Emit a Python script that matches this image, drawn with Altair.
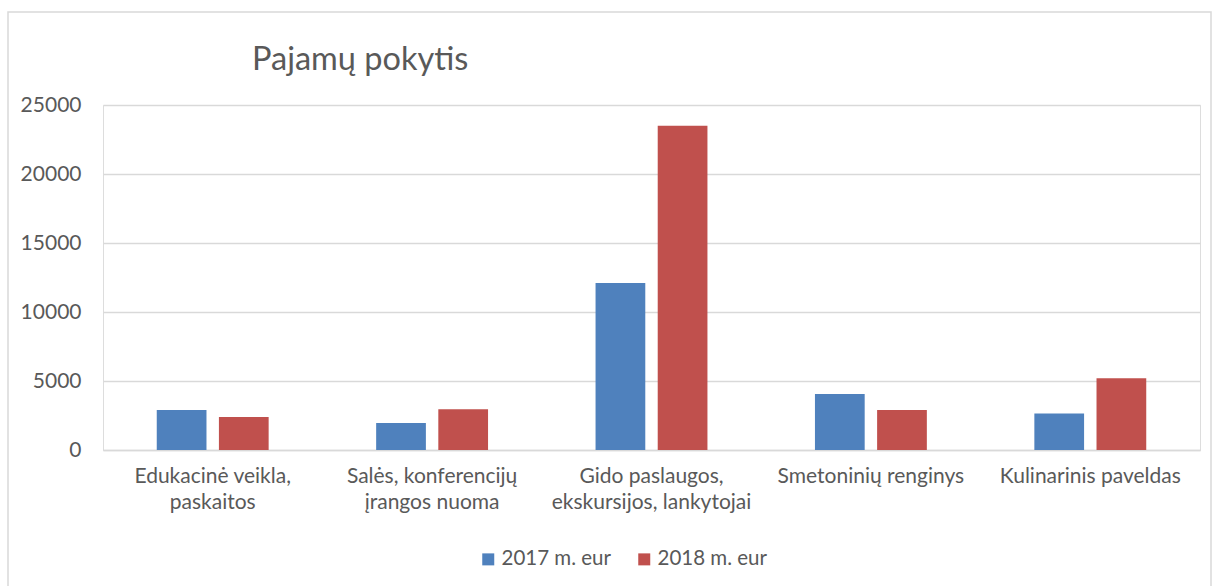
import altair as alt
import pandas as pd

title_text = "Pajamų pokytis"
categories = [
    "Edukacinė veikla,|paskaitos",
    "Salės, konferencijų|įrangos nuoma",
    "Gido paslaugos,|ekskursijos, lankytojai",
    "Smetoninių renginys",
    "Kulinarinis paveldas",
]
series = ["2017 m. eur", "2018 m. eur"]
values_2017 = [2900, 1950, 12100, 4050, 2650]
values_2018 = [2400, 2950, 23500, 2900, 5200]
colors = ["#4F81BD", "#C0504D"]

rows = []
for c, a, b in zip(categories, values_2017, values_2018):
    rows.append({"cat": c, "series": series[0], "value": a})
    rows.append({"cat": c, "series": series[1], "value": b})
df = pd.DataFrame(rows)

FONT = "Lato"
GRAY = "#595959"
FS = 21

bars = alt.Chart(df).mark_bar().encode(
    x=alt.X("cat:N", sort=categories,
            scale=alt.Scale(paddingInner=0.49, paddingOuter=0.245),
            axis=alt.Axis(title=None, labelExpr="split(datum.label, '|')",
                          labelAngle=0, labelFontSize=FS, labelFont=FONT,
                          labelColor=GRAY, labelPadding=15, labelLineHeight=26,
                          labelLimit=0,
                          ticks=False, domainColor="#d9d9d9", domainWidth=1.5,
                          labelBaseline="top")),
    xOffset=alt.XOffset("series:N", sort=series,
                        scale=alt.Scale(paddingInner=0.2, paddingOuter=0)),
    y=alt.Y("value:Q", scale=alt.Scale(domain=[0, 25000]),
            axis=alt.Axis(title=None, values=[0, 5000, 10000, 15000, 20000, 25000],
                          format="d", labelFontSize=FS, labelFont=FONT,
                          labelColor=GRAY, labelPadding=22, ticks=False,
                          domain=False, gridColor="#d9d9d9", gridWidth=1.5)),
    color=alt.Color("series:N", sort=series,
                    scale=alt.Scale(domain=series, range=colors),
                    legend=alt.Legend(title=None, orient="none", direction="horizontal",
                                      legendX=375, legendY=444,
                                      symbolType="square", symbolSize=144,
                                      symbolStrokeWidth=0,
                                      labelFont=FONT, labelFontSize=20.5,
                                      labelColor=GRAY, columnPadding=23,
                                      labelOffset=3)),
)

border = alt.Chart(alt.Data(values=[{}])).mark_rect(
    fill=None, stroke="#d9d9d9", strokeWidth=1.5
).encode(
    x=alt.value(-95), x2=alt.value(1108), y=alt.value(-93), y2=alt.value(490)
)

title = alt.Chart(alt.Data(values=[{"t": title_text}])).mark_text(
    align="left", baseline="alphabetic", font=FONT, fontSize=32.5, color=GRAY
).encode(
    text="t:N", x=alt.value(149), y=alt.value(-35)
)

chart = alt.layer(border, bars, title).properties(
    width=1097, height=345,
    padding={"left": 103, "top": 105, "right": 19, "bottom": 136},
    autosize=alt.AutoSizeParams(type="none"),
).configure_view(stroke=None).configure(background="white")

chart.save("out.html", embed_options={"renderer": "svg", "actions": False})
